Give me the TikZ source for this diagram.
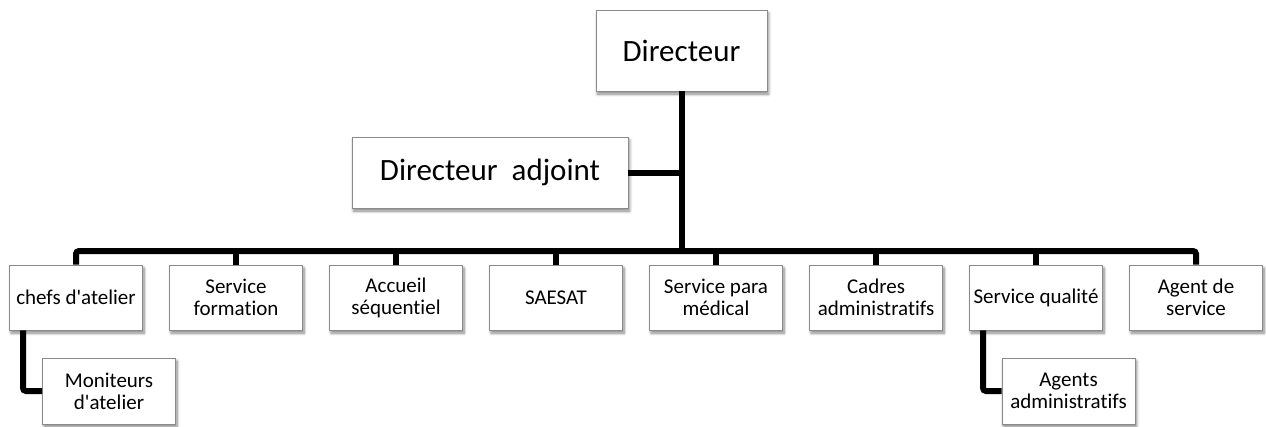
\documentclass[tikz,border=0pt]{standalone}
\usepackage{fontspec}
\setmainfont{Carlito}[Ligatures={NoCommon}]
\usetikzlibrary{shadows.blur}
\definecolor{boxline}{HTML}{8A8A8A}
\newcommand{\apos}{\textquotesingle}
\tikzset{
  orgbox/.style={draw=boxline, line width=0.9pt, fill=white, align=center,
    inner sep=0pt, text=black,
    blur shadow={shadow xshift=1.5pt, shadow yshift=-3pt, shadow blur radius=3pt,
      shadow blur steps=6, shadow opacity=50}},
  topbox/.style={orgbox, font=\fontsize{31}{34}\selectfont},
  unitbox/.style={orgbox, minimum width=133pt, minimum height=65pt,
    font=\fontsize{21}{22}\selectfont},
  link/.style={line width=6pt, draw=black}
}
\begin{document}
\begin{tikzpicture}[x=1pt,y=-1pt]
\useasboundingbox (0,0) rectangle (1266,426);

% head and deputy
\node[topbox, minimum width=171pt, minimum height=81pt] (dir) at (681.5,50.5) {Directeur};
\node[topbox, minimum width=276pt, minimum height=71pt] (adj) at (490,172.5) {Directeur\ \ adjoint};

% services row
\node[unitbox] (b1) at (76,297.5)  {chefs d\apos atelier};
\node[unitbox] (b2) at (236,297.5) {Service\\formation};
\node[unitbox] (b3) at (396,297.5) {Accueil\\séquentiel};
\node[unitbox] (b4) at (556,297.5) {SAESAT};
\node[unitbox] (b5) at (716,297.5) {Service para\\médical};
\node[unitbox] (b6) at (876,297.5) {Cadres\\administratifs};
\node[unitbox] (b7) at (1036,297.5) {Service qualité};
\node[unitbox] (b8) at (1196,297.5) {Agent de\\service};

% sub-units
\node[unitbox, minimum height=66pt] (mon) at (109,391) {Moniteurs\\d\apos atelier};
\node[unitbox, minimum height=66pt] (agt) at (1068.5,391) {Agents\\administratifs};

% connectors
\coordinate (bus) at (682,251);
\draw[link] (dir.south) -- (dir.south |- bus);
\draw[link] (adj.east) -- (adj.east -| bus);
\draw[link, rounded corners=3pt] (b1.north) |- (bus) -| (b8.north);
\foreach \b in {b2,b3,b4,b5,b6,b7}
  \draw[link] (\b.north) -- (\b.north |- bus);
\draw[link, rounded corners=3pt] ([xshift=14pt]b1.south west) |- (mon.west);
\draw[link, rounded corners=3pt] ([xshift=14pt]b7.south west) |- (agt.west);
\end{tikzpicture}
\end{document}
